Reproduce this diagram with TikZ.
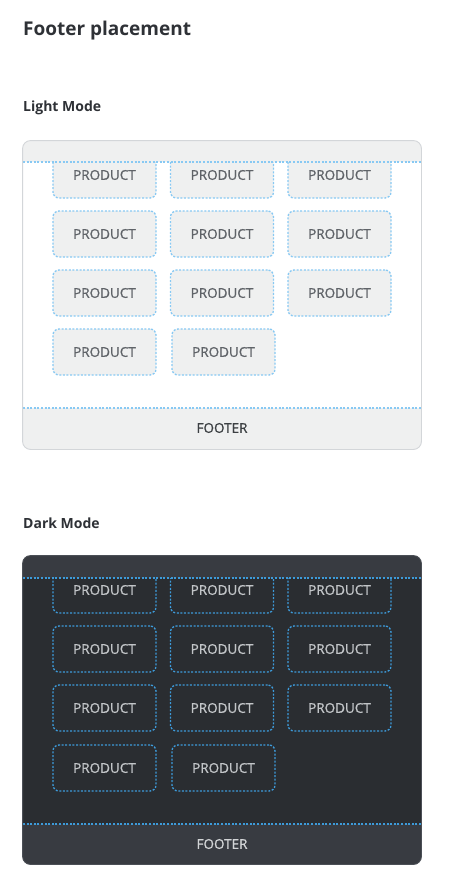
\documentclass[tikz,border=0pt]{standalone}
\usepackage{fontspec}
\setmainfont{Open Sans}
\newfontfamily\prodfont[FakeBold=1]{Open Sans}
\usetikzlibrary{positioning}

\definecolor{titletext}{HTML}{2E3136}
% light mode colours
\definecolor{bodycol}{HTML}{FFFFFF}
\definecolor{bandcol}{HTML}{EFF0F0}
\definecolor{framecol}{HTML}{D3D6D9}
\definecolor{prodfill}{HTML}{EFF0F0}
\definecolor{prodline}{HTML}{88C9F3}
\definecolor{prodtext}{HTML}{5F6368}
\definecolor{foottext}{HTML}{3C4043}

\begin{document}
\begin{tikzpicture}[
    x=1pt, y=-1pt,
    title/.style={anchor=west, inner sep=0pt, text=titletext, font=\fontsize{19}{22}\selectfont\bfseries},
    modetitle/.style={anchor=west, inner sep=0pt, text=titletext, font=\fontsize{14}{17}\selectfont\bfseries},
    frame/.style={draw=framecol, line width=0.9pt, rounded corners=8pt, minimum width=398pt, minimum height=308pt, inner sep=0pt},
    product/.style={draw=prodline, fill=prodfill, dash pattern=on 2pt off 1.6pt, line width=1.3pt,
        rounded corners=6pt, minimum width=103pt, minimum height=46pt, inner sep=0pt,
        text=prodtext, font=\prodfont\fontsize{13.5}{15}\selectfont},
    sepline/.style={draw=prodline, dash pattern=on 2pt off 1.6pt, line width=1.3pt},
    footerlabel/.style={inner sep=0pt, text=foottext, font=\prodfont\fontsize{13.5}{15}\selectfont}
]
\useasboundingbox (0,0) rectangle (448,891);

% titles
\node[title] (heading) at (23,31) {Footer placement};
\node[modetitle] (lighttitle) at (23,108) {Light Mode};
\node[modetitle] (darktitle) at (23,523) {Dark Mode};

% light mode
\node[frame] (lframe) at (222,295) {};
\coordinate (lhead) at (23,162);
\coordinate (lfoot) at (23,408);
\begin{scope}
  \clip[rounded corners=8pt] (lframe.north west) rectangle (lframe.south east);
  \fill[bodycol] (lframe.north west) rectangle (lframe.south east);
  \foreach \px/\py/\nm in {104.5/175/a, 222/175/b, 339.5/175/c,
                           104.5/234/d, 222/234/e, 339.5/234/f,
                           104.5/293/g, 222/293/h, 339.5/293/i,
                           104.5/352/j, 223.5/352/k}
    \node[product] (l\nm) at (\px,\py) {PRODUCT};
  \fill[bandcol] (lframe.north west) rectangle (lframe.east |- lhead);
  \fill[bandcol] (lfoot) rectangle (lframe.south east);
\end{scope}
\draw[sepline] (lhead) -- (lframe.east |- lhead);
\draw[sepline] (lfoot) -- (lframe.east |- lfoot);
\draw[framecol, line width=0.9pt, rounded corners=8pt] (lframe.north west) rectangle (lframe.south east);
\node[footerlabel] (lfooter) at (222,428) {FOOTER};

% dark mode
\begin{scope}
  \definecolor{bodycol}{HTML}{2A2D31}
  \definecolor{bandcol}{HTML}{383B41}
  \definecolor{framecol}{HTML}{4B4F56}
  \definecolor{prodfill}{HTML}{2A2D31}
  \definecolor{prodline}{HTML}{3D9BDA}
  \definecolor{prodtext}{HTML}{C2C5C8}
  \definecolor{foottext}{HTML}{D2D4D6}
  \node[frame] (dframe) at (222,710) {};
  \coordinate (dhead) at (23,578);
  \coordinate (dfoot) at (23,824);
  \begin{scope}
    \clip[rounded corners=8pt] (dframe.north west) rectangle (dframe.south east);
    \fill[bodycol] (dframe.north west) rectangle (dframe.south east);
    \foreach \px/\py/\nm in {104.5/590/a, 222/590/b, 339.5/590/c,
                             104.5/649/d, 222/649/e, 339.5/649/f,
                             104.5/708/g, 222/708/h, 339.5/708/i,
                             104.5/768/j, 223.5/768/k}
      \node[product] (d\nm) at (\px,\py) {PRODUCT};
    \fill[bandcol] (dframe.north west) rectangle (dframe.east |- dhead);
    \fill[bandcol] (dfoot) rectangle (dframe.south east);
  \end{scope}
  \draw[sepline] (dhead) -- (dframe.east |- dhead);
  \draw[sepline] (dfoot) -- (dframe.east |- dfoot);
  \draw[framecol, line width=0.9pt, rounded corners=8pt] (dframe.north west) rectangle (dframe.south east);
  \node[footerlabel] (dfooter) at (222,844) {FOOTER};
\end{scope}
\end{tikzpicture}
\end{document}
